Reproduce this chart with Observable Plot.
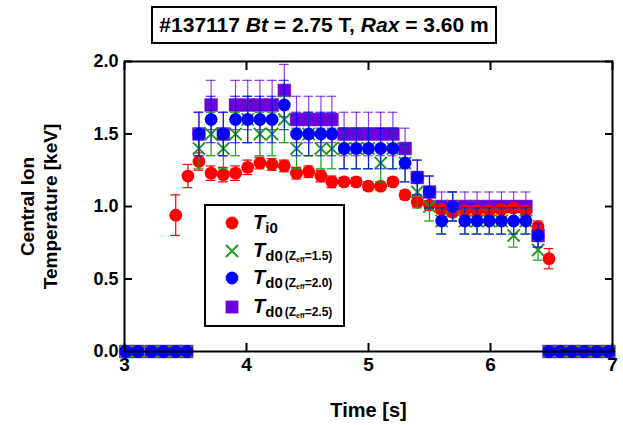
<!DOCTYPE html>
<html><head><meta charset="utf-8">
<script src="https://cdn.jsdelivr.net/npm/d3@7"></script>
<script src="https://cdn.jsdelivr.net/npm/@observablehq/plot@0.6"></script>
<style>
body{margin:0;background:#fff;}
#wrap{position:relative;width:623px;height:425px;font-family:"Liberation Sans",Arial,sans-serif;font-weight:bold;color:#000;}
#chart{position:absolute;left:0;top:0;}
#title{position:absolute;left:151px;top:6px;width:346px;height:38px;box-sizing:border-box;border:2px solid #000;background:#fff;
  font-size:21px;line-height:34px;text-align:center;white-space:nowrap;}
#legend{position:absolute;left:204px;top:204px;width:141px;height:123px;box-sizing:border-box;border:2px solid #000;background:#fff;}
.row{position:absolute;left:47px;font-size:20px;line-height:20px;white-space:nowrap;}
.T{font-style:italic;}
.s1{font-size:15px;position:relative;top:4px;}
.s2{font-size:12px;position:relative;top:3px;margin-left:2px;}
.s3{font-size:7px;position:relative;top:2px;}
.mk{position:absolute;left:16px;width:20px;height:20px;overflow:visible;}
</style>
</head><body>
<div id="wrap">
  <div id="chart"></div>
  <div id="title">#137117 <i>Bt</i> = 2.75 T, <i>Rax</i> = 3.60 m</div>
  <div id="legend"></div>
</div>
<script>
// ---- data ----
const tiTime = [3.42,3.52,3.61,3.71,3.81,3.91,4.01,4.11,4.21,4.31,4.41,4.51,4.61,4.70,4.80,4.90,5.00,5.10,5.20,5.30,5.40,5.50,5.60,5.69,5.79,5.89,5.99,6.09,6.19,6.29,6.39,6.48];
const tiValue = [0.94,1.21,1.31,1.23,1.22,1.23,1.27,1.30,1.29,1.28,1.23,1.24,1.21,1.17,1.17,1.17,1.14,1.14,1.17,1.08,1.03,1.01,0.98,0.96,0.97,0.97,0.97,0.98,0.99,0.97,0.86,0.64];
const tiError = [0.14,0.08,0.06,0.05,0.05,0.05,0.05,0.04,0.04,0.04,0.04,0.04,0.04,0.04,0.03,0.03,0.03,0.03,0.03,0.03,0.03,0.03,0.03,0.03,0.03,0.03,0.03,0.03,0.03,0.03,0.04,0.07];

const tdTime = [3.61,3.71,3.81,3.91,4.01,4.11,4.21,4.31,4.41,4.51,4.61,4.70,4.80,4.90,5.00,5.10,5.20,5.30,5.40,5.50,5.60,5.69,5.79,5.89,5.99,6.09,6.19,6.29,6.39];
const td15 = [1.4,1.5,1.4,1.5,1.6,1.5,1.5,1.6,1.4,1.5,1.4,1.4,1.4,1.4,1.4,1.3,1.4,1.3,1.1,1.0,0.9,1.0,0.9,0.9,0.9,0.9,0.8,0.9,0.7];
const td15Error = [0.14,0.15,0.14,0.15,0.16,0.15,0.15,0.16,0.14,0.15,0.14,0.14,0.14,0.14,0.14,0.13,0.14,0.13,0.11,0.10,0.09,0.10,0.09,0.09,0.09,0.09,0.08,0.09,0.07];
const td20 = [1.5,1.6,1.5,1.6,1.6,1.6,1.6,1.7,1.5,1.5,1.5,1.5,1.4,1.4,1.4,1.4,1.4,1.3,1.2,1.1,0.9,1.0,0.9,0.9,0.9,0.9,0.9,0.9,0.8];
const td20Error = [0.15,0.16,0.15,0.16,0.16,0.16,0.16,0.17,0.15,0.15,0.15,0.15,0.14,0.14,0.14,0.14,0.14,0.13,0.12,0.11,0.09,0.10,0.09,0.09,0.09,0.09,0.09,0.09,0.08];
const td25 = [1.5,1.7,1.5,1.7,1.7,1.7,1.7,1.8,1.6,1.6,1.6,1.6,1.5,1.5,1.5,1.5,1.5,1.4,1.2,1.1,1.0,1.0,1.0,1.0,1.0,1.0,1.0,1.0,0.8];
const td25Error = [0.15,0.17,0.15,0.17,0.17,0.17,0.17,0.18,0.16,0.16,0.16,0.16,0.15,0.15,0.15,0.15,0.15,0.14,0.12,0.11,0.10,0.10,0.10,0.10,0.10,0.10,0.10,0.10,0.08];

// times where Td0 is shown as zero
const zeroTime = [3.01,3.11,3.22,3.32,3.42,3.51,6.48,6.57,6.67,6.77,6.87,6.97];
const zeroValue = [0,0,0,0,0,0,0,0,0,0,0,0];

const xTicks = [3,4,5,6,7];
const yTicks = [0,0.5,1.0,1.5,2.0];
const xLabel = "Time [s]";
const yLabel = "Central Ion\nTemperature [keV]";

const colors = {ti:"#ff0000", d15:"#1a9a1a", d20:"#0000ff", d25:"#6c00dc"};

// ---- tables ----
const mk = (t, v, e) => t.map((x, i) => ({t: x, v: v[i], e: e ? e[i] : 0}));
const ti = mk(tiTime, tiValue, tiError);
const d15 = mk(tdTime, td15, td15Error).concat(mk(zeroTime, zeroValue));
const d20 = mk(tdTime, td20, td20Error).concat(mk(zeroTime, zeroValue));
const d25 = mk(tdTime, td25, td25Error).concat(mk(zeroTime, zeroValue));
const withErr = d => d.filter(r => r.e > 0);

const capHalf = 0.04; // cap half-width in seconds
function errorBars(data, color, opacity = 1) {
  const d = withErr(data);
  return [
    Plot.ruleX(d, {x: "t", y1: r => r.v - r.e, y2: r => r.v + r.e, stroke: color, strokeWidth: 1.2, strokeOpacity: opacity}),
    Plot.ruleY(d, {y: r => r.v + r.e, x1: r => r.t - capHalf, x2: r => r.t + capHalf, stroke: color, strokeWidth: 1.2, strokeOpacity: opacity}),
    Plot.ruleY(d, {y: r => r.v - r.e, x1: r => r.t - capHalf, x2: r => r.t + capHalf, stroke: color, strokeWidth: 1.2, strokeOpacity: opacity})
  ];
}

const font = '"Liberation Sans", Arial, sans-serif';
const chart = Plot.plot({
  width: 623, height: 425,
  marginLeft: 124, marginRight: 11, marginTop: 61, marginBottom: 74,
  x: {domain: [3, 7]},
  y: {domain: [0, 2]},
  style: {fontFamily: font, fontWeight: "bold", fontSize: "18px", color: "#000", background: "transparent", overflow: "visible"},
  marks: [
    Plot.axisX(xTicks, {anchor: "bottom", tickSize: -8, tickPadding: 14, tickFormat: d => String(d), label: null, fontSize: 19, strokeWidth: 2}),
    Plot.axisX(xTicks, {anchor: "top", tickSize: -8, tickFormat: () => "", label: null, strokeWidth: 2}),
    Plot.axisY(yTicks, {anchor: "left", tickSize: -8, tickPadding: 14, tickFormat: d3.format(".1f"), label: null, fontSize: 18, strokeWidth: 2}),
    Plot.axisY(yTicks, {anchor: "right", tickSize: -8, tickFormat: () => "", label: null, strokeWidth: 2}),
    ...errorBars(d25, colors.d25, 0.75),
    Plot.dot(d25, {x: "t", y: "v", symbol: "square", r: 7.2, fill: colors.d25, stroke: colors.d25, strokeOpacity: 0.5, strokeWidth: 1}),
    ...errorBars(ti, colors.ti),
    Plot.dot(ti, {x: "t", y: "v", r: 6.4, fill: colors.ti}),
    ...errorBars(d15, colors.d15),
    Plot.dot(d15, {x: "t", y: "v", symbol: "times", r: 5.6, stroke: colors.d15, strokeWidth: 2}),
    ...errorBars(d20, colors.d20, 0.8),
    Plot.dot(d20, {x: "t", y: "v", r: 6.4, fill: colors.d20}),
    Plot.frame({stroke: "#000", strokeWidth: 2}),
    Plot.text([xLabel], {frameAnchor: "bottom", dy: 59, lineAnchor: "middle", textAnchor: "middle", fontSize: 20, fontWeight: "bold"}),
    Plot.text([yLabel], {frameAnchor: "left", dx: -86, rotate: -90, textAnchor: "middle", lineAnchor: "middle", lineHeight: 1.2, fontSize: 19, fontWeight: "bold"})
  ]
});
document.getElementById("chart").appendChild(chart);

// ---- legend ----
const legendItems = [
  {key: "ti", sym: "circle", main: "i0", z: null},
  {key: "d15", sym: "times", main: "d0", z: "1.5"},
  {key: "d20", sym: "circle", main: "d0", z: "2.0"},
  {key: "d25", sym: "square", main: "d0", z: "2.5"}
];
const rowCenters = [17, 45, 72, 101];
const legend = document.getElementById("legend");
legendItems.forEach((it, i) => {
  const c = colors[it.key];
  const cy = rowCenters[i];
  let shape;
  if (it.sym === "circle") shape = `<circle cx="10" cy="10" r="6.4" fill="${c}"/>`;
  else if (it.sym === "square") shape = `<rect x="3.6" y="3.6" width="12.8" height="12.8" fill="${c}"/>`;
  else shape = `<path d="M4,4L16,16M16,4L4,16" stroke="${c}" stroke-width="2" fill="none"/>`;
  legend.insertAdjacentHTML("beforeend", `<svg class="mk" style="top:${cy - 10}px">${shape}</svg>`);
  let html = `<span class="T">T</span><span class="s1">${it.main}</span>`;
  if (it.z) html += `<span class="s2">(Z<span class="s3">eff</span>=${it.z})</span>`;
  legend.insertAdjacentHTML("beforeend", `<div class="row" style="top:${cy - 11}px">${html}</div>`);
});
</script>
</body></html>
